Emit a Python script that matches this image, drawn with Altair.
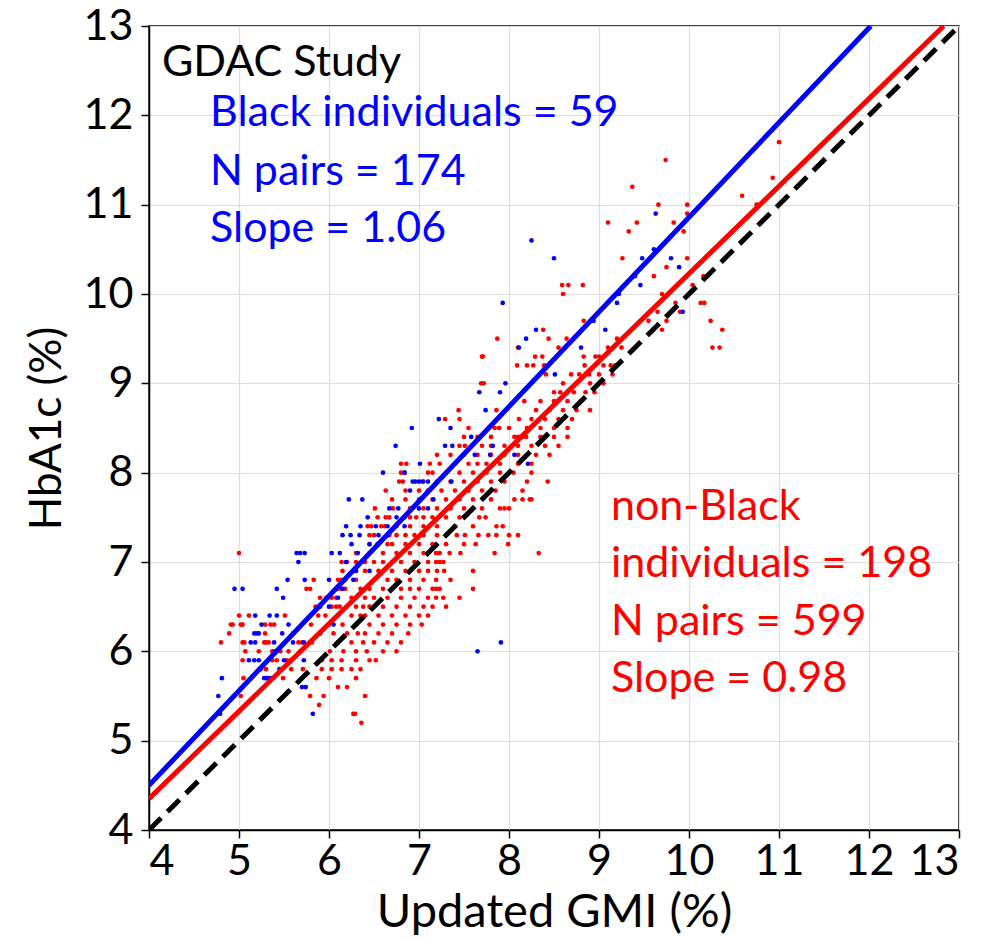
import altair as alt
import pandas as pd

# ---- scatter data: HbA1c row (y) -> list of Updated GMI values (x) ----
red_rows = {
    5.2: [6.36],
    5.3: [6.27, 6.29],
    5.4: [5.89],
    5.5: [5.02, 5.79, 5.94, 6.40],
    5.6: [5.74, 6.10, 6.20],
    5.7: [5.05, 5.31, 5.49, 5.86, 6.00, 6.30],
    5.8: [5.30, 5.58, 5.71, 5.92, 6.03, 6.14, 6.25, 6.35],
    5.9: [5.04, 5.37, 5.42, 5.53, 5.57, 5.92, 6.03, 6.14, 6.30, 6.45, 6.52],
    6.0: [5.07, 5.22, 5.37, 5.46, 5.55, 5.68, 6.01, 6.16, 6.30, 6.42, 6.60, 6.75],
    6.1: [4.80, 5.04, 5.06, 5.28, 5.30, 5.33, 5.66, 5.70, 5.81, 6.10, 6.25, 6.38, 6.50, 6.65, 6.80],
    6.2: [4.89, 5.29, 5.60, 5.90, 6.05, 6.20, 6.32, 6.40, 6.55, 6.70, 6.88],
    6.3: [4.91, 4.93, 5.02, 5.04, 5.29, 5.35, 5.39, 5.80, 6.00, 6.15, 6.30, 6.45, 6.60, 6.75, 6.90, 7.03],
    6.4: [5.00, 5.11, 5.51, 5.88, 5.96, 6.10, 6.25, 6.35, 6.40, 6.55, 6.70, 6.85, 7.00, 7.10],
    6.5: [5.85, 6.03, 6.08, 6.12, 6.30, 6.38, 6.45, 6.60, 6.75, 6.90, 7.05, 7.15, 7.30],
    6.6: [5.90, 5.97, 6.03, 6.08, 6.25, 6.40, 6.50, 6.65, 6.80, 6.95, 7.10, 7.19, 7.27, 7.45],
    6.7: [5.75, 5.79, 6.10, 6.14, 6.18, 6.35, 6.45, 6.60, 6.80, 6.90, 7.00, 7.15, 7.19, 7.23, 7.60],
    6.8: [5.83, 6.10, 6.14, 6.18, 6.30, 6.50, 6.65, 6.75, 6.90, 7.05, 7.19, 7.35],
    6.9: [6.15, 6.30, 6.40, 6.55, 6.70, 6.85, 7.00, 7.10, 7.20, 7.28, 7.60],
    7.0: [6.14, 6.20, 6.30, 6.40, 6.50, 6.60, 6.70, 6.80, 6.95, 7.10, 7.19, 7.23, 7.27],
    7.1: [5.00, 6.30, 6.45, 6.60, 6.75, 6.90, 7.05, 7.19, 7.23, 7.34, 7.46, 7.84, 8.33],
    7.2: [6.45, 6.55, 6.65, 6.70, 6.85, 7.00, 7.15, 7.30, 7.50, 7.63, 7.99],
    7.3: [6.45, 6.50, 6.67, 6.75, 6.85, 6.95, 7.05, 7.20, 7.42, 7.51, 7.66, 7.77, 7.86, 8.00, 8.10],
    7.4: [6.43, 6.47, 6.58, 6.62, 6.75, 6.90, 7.05, 7.20, 7.40, 7.60, 7.86, 7.93],
    7.5: [6.54, 6.63, 6.67, 6.84, 6.90, 6.97, 7.05, 7.15, 7.30, 7.45, 7.67, 7.74],
    7.6: [6.51, 6.71, 6.90, 7.05, 7.20, 7.35, 7.50, 7.70, 7.90, 7.95, 8.00],
    7.7: [6.70, 6.85, 7.00, 7.15, 7.30, 7.45, 7.60, 7.80, 8.06, 8.15, 8.23, 8.25],
    7.8: [6.63, 6.85, 7.00, 7.10, 7.25, 7.40, 7.55, 7.70, 7.85, 8.15],
    7.9: [6.78, 6.82, 7.05, 7.20, 7.35, 7.50, 7.65, 7.80, 7.95, 8.20, 8.43],
    8.0: [6.80, 6.84, 7.10, 7.15, 7.30, 7.45, 7.60, 7.75, 7.90, 8.05, 8.25],
    8.1: [6.80, 6.86, 7.12, 7.23, 7.40, 7.55, 7.65, 7.75, 7.90, 8.10, 8.25],
    8.2: [7.20, 7.35, 7.50, 7.65, 7.80, 7.95, 8.10, 8.30, 8.45],
    8.3: [7.45, 7.51, 7.70, 7.80, 7.95, 8.10, 8.25, 8.40, 8.55],
    8.4: [7.50, 7.65, 7.80, 8.06, 8.10, 8.15, 8.19, 8.35, 8.50, 8.65],
    8.5: [7.55, 7.84, 7.89, 8.00, 8.20, 8.35, 8.50, 8.65],
    8.6: [7.29, 7.45, 8.11, 8.25, 8.40, 8.55, 8.70],
    8.7: [7.44, 7.86, 8.30, 8.45, 8.60, 8.75, 8.90],
    8.8: [8.17, 8.35, 8.50, 8.65, 8.80],
    8.9: [8.50, 8.57, 8.72, 8.85, 8.95],
    9.0: [7.69, 7.72, 8.60, 8.75, 8.90, 9.05],
    9.1: [8.41, 8.69, 8.78, 8.89, 9.00, 9.15],
    9.2: [8.09, 8.20, 8.27, 8.39, 8.84, 9.05, 9.13, 9.18],
    9.3: [7.70, 7.71, 8.29, 8.37, 8.83, 8.96, 9.00],
    9.4: [8.10, 8.55, 9.10, 9.25, 10.26, 10.34],
    9.5: [7.87, 8.44, 8.64, 9.20],
    9.6: [8.38, 9.60, 9.70, 10.37],
    9.7: [8.83, 9.55, 9.75, 10.24],
    9.8: [9.65, 9.90],
    9.9: [9.85, 10.13, 10.17],
    10.0: [8.60, 9.70],
    10.1: [8.59, 8.66, 8.82, 10.04],
    10.2: [9.61, 10.16],
    10.3: [9.75],
    10.4: [9.26, 9.98],
    10.7: [9.33, 9.94],
    10.8: [9.10, 9.42, 9.83],
    10.9: [9.98],
    11.0: [9.66, 9.98, 10.75],
    11.1: [10.59],
    11.2: [9.37],
    11.3: [10.93],
    11.5: [9.74],
    11.7: [11.00],
}

blue_rows = {
    5.3: [4.79, 5.82],
    5.5: [4.77],
    5.6: [5.70, 5.74],
    5.7: [4.81, 5.28, 5.31, 5.35],
    5.8: [5.24, 5.45],
    5.9: [5.11, 5.17, 5.22, 5.50, 5.72],
    6.0: [5.40, 7.65],
    6.1: [5.13, 5.18, 5.39, 5.60, 5.72, 7.91],
    6.2: [5.17, 5.20, 5.22, 5.48, 5.90],
    6.3: [5.25, 5.55, 6.05],
    6.4: [5.18, 5.34, 5.42],
    6.5: [5.90, 6.00],
    6.6: [5.49, 6.10],
    6.7: [4.95, 5.04, 5.42, 6.15],
    6.8: [5.54, 5.73, 6.00, 6.27],
    6.9: [6.30, 6.45],
    7.0: [5.66, 6.19],
    7.1: [5.64, 5.68, 5.73, 6.03, 6.12, 6.32],
    7.2: [6.25, 6.45, 6.54],
    7.3: [6.15, 6.24, 6.34, 6.55, 6.65],
    7.4: [6.19, 6.35, 6.52, 6.65, 6.84],
    7.5: [6.43, 6.75],
    7.6: [6.67, 6.77, 7.00, 7.10],
    7.7: [6.22, 6.37, 7.16],
    7.8: [6.90],
    7.9: [6.93, 6.96, 7.00, 7.04, 7.10, 7.36],
    8.0: [6.60, 6.84],
    8.1: [7.01, 8.21],
    8.2: [7.62, 7.79, 8.06],
    8.3: [6.74, 7.29, 7.37, 7.82],
    8.4: [7.58],
    8.5: [6.92, 7.35],
    8.6: [7.22],
    8.7: [7.74],
    8.9: [7.67, 7.90],
    9.0: [7.96],
    9.1: [8.51],
    9.4: [8.11, 8.80],
    9.5: [8.19],
    9.6: [8.30, 9.07],
    9.7: [8.94],
    9.8: [9.93],
    9.9: [7.93, 9.20],
    10.0: [9.22],
    10.1: [9.46],
    10.2: [9.40],
    10.3: [9.89],
    10.4: [8.50, 9.48, 9.80],
    10.5: [9.61],
    10.6: [8.25],
    10.9: [9.63],
}

# ---- fitted lines (end points) ----
blue_line_x = [4.0, 12.02]
blue_line_y = [4.50, 13.0]
red_line_x = [4.0, 12.83]
red_line_y = [4.35, 13.0]
identity_x = [4.0, 13.0]
identity_y = [4.0, 13.0]

# ---- annotations ----
black_text = ["GDAC Study"]
blue_text = ["Black individuals = 59", "N pairs = 174", "Slope = 1.06"]
red_text = ["non-Black", "individuals = 198", "N pairs = 599", "Slope = 0.98"]

FONT = "Lato"
BLUE = "#0000ff"
RED = "#ff0000"

pts = []
for y, xs in red_rows.items():
    for x in xs:
        pts.append({"gmi": x, "hba1c": y, "grp": "red"})
for y, xs in blue_rows.items():
    for x in xs:
        pts.append({"gmi": x, "hba1c": y, "grp": "blue"})
pts = pd.DataFrame(pts)

xs = alt.Scale(domain=[4, 13], nice=False, zero=False)
ys = alt.Scale(domain=[4, 13], nice=False, zero=False)
tick_vals = list(range(4, 14))

base_x = alt.X("gmi:Q", scale=xs, title="Updated GMI (%)",
               axis=alt.Axis(values=tick_vals, format="d", labelOverlap=False,
                             titlePadding=6, labelPadding=2, titleFontSize=47))
base_y = alt.Y("hba1c:Q", scale=ys, title="HbA1c (%)",
               axis=alt.Axis(values=tick_vals, format="d", labelOverlap=False,
                             titlePadding=14, labelPadding=8))

red_pts = alt.Chart(pts[pts.grp == "red"]).mark_circle(size=22, opacity=1, color=RED).encode(x=base_x, y=base_y)
blue_pts = alt.Chart(pts[pts.grp == "blue"]).mark_circle(size=22, opacity=1, color=BLUE).encode(x="gmi:Q", y="hba1c:Q")

def line_df(xv, yv):
    return pd.DataFrame({"gmi": xv, "hba1c": yv})

blue_ln = alt.Chart(line_df(blue_line_x, blue_line_y)).mark_line(color=BLUE, strokeWidth=5, clip=True).encode(x="gmi:Q", y="hba1c:Q")
red_ln = alt.Chart(line_df(red_line_x, red_line_y)).mark_line(color=RED, strokeWidth=5, clip=True).encode(x="gmi:Q", y="hba1c:Q")
id_ln = alt.Chart(line_df(identity_x, identity_y)).mark_line(color="black", strokeWidth=5, strokeDash=[17, 9], clip=True).encode(x="gmi:Q", y="hba1c:Q")

ann = pd.DataFrame(
    [{"gmi": 4.144, "hba1c": 12.44, "t": black_text[0], "c": "k"}]
    + [{"gmi": 4.678, "hba1c": v, "t": t, "c": "b"} for t, v in zip(blue_text, [11.88, 11.22, 10.58])]
    + [{"gmi": 9.133, "hba1c": v, "t": t, "c": "r"} for t, v in zip(red_text, [7.47, 6.83, 6.18, 5.55])]
)
texts = alt.Chart(ann).mark_text(align="left", baseline="alphabetic", font=FONT, fontSize=43).encode(
    x="gmi:Q", y="hba1c:Q", text="t:N",
    color=alt.Color("c:N", scale=alt.Scale(domain=["k", "b", "r"], range=["black", BLUE, RED]), legend=None),
)

chart = alt.layer(red_pts, blue_pts, blue_ln, red_ln, id_ln, texts).properties(
    width=810, height=804,
    autosize=alt.AutoSizeParams(type="none"),
    padding={"left": 141, "top": 18, "right": 30, "bottom": 106},
).configure_view(stroke="black", strokeWidth=1.5).configure_axis(
    grid=True, gridColor="#dedede", gridWidth=1.2,
    domainColor="black", domainWidth=1.5,
    tickColor="black", tickWidth=1.5, tickSize=8,
    labelFont=FONT, labelFontSize=43, labelColor="black",
    titleFont=FONT, titleFontSize=44, titleFontWeight="normal", titleColor="black",
)

chart.save("out.html", embed_options={"renderer": "svg", "actions": False})
